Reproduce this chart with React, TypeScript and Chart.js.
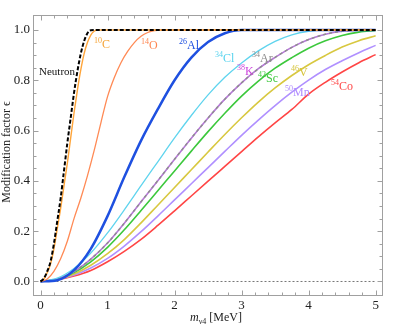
import React, { useEffect, useRef } from "react";
import { Chart, registerables } from "chart.js";

Chart.register(...registerables);

// ---------- data ----------
const X_TICKS = [0, 1, 2, 3, 4, 5];
const Y_TICKS = [0, 0.2, 0.4, 0.6, 0.8, 1.0];

const NEUTRON_X = [0, 0.05, 0.1, 0.15, 0.2, 0.25, 0.3, 0.35, 0.4, 0.45, 0.5, 0.55, 0.6, 0.65, 0.7, 0.75, 0.8, 5];
const NEUTRON_Y = [0, 0.012, 0.04, 0.08, 0.15, 0.24, 0.33, 0.44, 0.55, 0.65, 0.75, 0.835, 0.905, 0.955, 0.987, 0.999, 1, 1];

const C10_X = [0, 0.05, 0.1, 0.15, 0.2, 0.25, 0.3, 0.35, 0.4, 0.45, 0.5, 0.55, 0.6, 0.65, 0.7, 0.75, 0.8, 0.85, 5];
const C10_Y = [0, 0.01, 0.035, 0.07, 0.13, 0.21, 0.29, 0.38, 0.47, 0.57, 0.67, 0.76, 0.84, 0.905, 0.95, 0.98, 0.995, 1, 1];

const O14_X = [0, 0.1, 0.2, 0.3, 0.4, 0.5, 0.6, 0.7, 0.8, 0.9, 1.0, 1.1, 1.2, 1.3, 1.4, 1.5, 1.6, 1.7, 1.8, 5];
const O14_Y = [0, 0.01, 0.04, 0.09, 0.16, 0.25, 0.33, 0.42, 0.52, 0.63, 0.735, 0.81, 0.87, 0.915, 0.95, 0.975, 0.99, 0.998, 1, 1];

const AL26_X = [0, 0.25, 0.5, 0.75, 1.0, 1.25, 1.5, 1.75, 2.0, 2.25, 2.5, 2.75, 3.0, 5];
const AL26_Y = [0, 0.005, 0.045, 0.13, 0.26, 0.415, 0.56, 0.685, 0.8, 0.89, 0.952, 0.987, 1, 1];

const HEAVY_X = [0, 0.25, 0.5, 0.75, 1.0, 1.25, 1.5, 1.75, 2.0, 2.25, 2.5, 2.75, 3.0, 3.25, 3.5, 3.75, 4.0, 4.25, 4.5, 4.75, 5.0];
const CL34_Y = [0, 0.0135, 0.052, 0.113, 0.193, 0.285, 0.381, 0.476, 0.571, 0.66, 0.742, 0.812, 0.869, 0.917, 0.955, 0.981, 0.995, 1, 1, 1, 1];
const AR34_Y = [0, 0.0099, 0.0396, 0.089, 0.153, 0.232, 0.317, 0.401, 0.486, 0.57, 0.65, 0.725, 0.79, 0.846, 0.891, 0.931, 0.962, 0.983, 0.995, 0.9995, 1];
const K38_Y = [0, 0.0099, 0.0396, 0.089, 0.153, 0.232, 0.317, 0.401, 0.486, 0.57, 0.65, 0.725, 0.79, 0.846, 0.891, 0.931, 0.962, 0.983, 0.995, 0.9995, 1];
const SC42_Y = [0, 0.0093, 0.0356, 0.0783, 0.1357, 0.2054, 0.2822, 0.361, 0.4396, 0.5184, 0.5958, 0.669, 0.7372, 0.7971, 0.848, 0.89, 0.9276, 0.957, 0.9783, 0.9916, 0.998];
const V46_Y = [0, 0.0083, 0.0297, 0.0644, 0.1106, 0.1667, 0.233, 0.3033, 0.3739, 0.4443, 0.5148, 0.5846, 0.651, 0.7135, 0.7695, 0.819, 0.862, 0.8988, 0.932, 0.9576, 0.9767];
const MN50_Y = [0, 0.0076, 0.0254, 0.0535, 0.0917, 0.1408, 0.198, 0.2602, 0.3244, 0.3887, 0.4529, 0.5172, 0.5812, 0.6417, 0.6993, 0.7525, 0.8006, 0.8427, 0.8777, 0.9099, 0.9388];
const CO54_Y = [0, 0.0069, 0.0216, 0.0439, 0.0785, 0.12, 0.1675, 0.2228, 0.2809, 0.3399, 0.3988, 0.4576, 0.5164, 0.5752, 0.6308, 0.6841, 0.745, 0.792, 0.833, 0.87, 0.902];

const ZERO_X = [0, 5];
const ZERO_Y = [0, 0];

// curve labels: [superscript, name, color, left px, baseline px, font size]
const LABELS: [string, string, string, number, number, number][] = [
  ["", "Neutron", "#111111", 39, 75, 11],
  ["10", "C", "#F5A233", 94, 48, 12],
  ["14", "O", "#FF8650", 141, 49, 12],
  ["26", "Al", "#1E50E0", 179, 49, 12],
  ["34", "Cl", "#55D2EE", 215, 62, 12],
  ["34", "Ar", "#8C8C8C", 252, 62, 12],
  ["38", "K", "#CC44DD", 237, 75, 12],
  ["42", "Sc", "#3EC83E", 258, 82, 12],
  ["46", "V", "#D6C43A", 291, 76, 12],
  ["50", "Mn", "#B08CFF", 285, 96, 12],
  ["54", "Co", "#FF4545", 331, 90, 12],
];

const SERIF = "'Liberation Serif', 'DejaVu Serif', serif";

const pts = (xs: number[], ys: number[]) => xs.map((x, i) => ({ x, y: ys[i] }));

const framePlugin = {
  id: "mframe",
  afterDraw(chart: any) {
    const { ctx, chartArea: a, scales } = chart;
    const xs = scales.x;
    const ys = scales.y;
    ctx.save();
    ctx.strokeStyle = "#a0a0a0";
    ctx.lineWidth = 1;
    const L = Math.round(a.left) + 0.5;
    const R = Math.round(a.right) - 0.5;
    const T = Math.round(a.top) + 0.5;
    const B = Math.round(a.bottom) - 0.5;
    ctx.strokeRect(L, T, R - L, B - T);
    ctx.beginPath();
    for (let i = 0; i <= 25; i++) {
      const v = i * 0.2;
      const major = i % 5 === 0;
      const len = major ? 5 : 3;
      const px = Math.round(xs.getPixelForValue(v)) + 0.5;
      ctx.moveTo(px, B);
      ctx.lineTo(px, B - len);
      ctx.moveTo(px, T);
      ctx.lineTo(px, T + len);
    }
    for (let i = 0; i <= 20; i++) {
      const v = i * 0.05;
      const major = i % 4 === 0;
      const len = major ? 5 : 3;
      const py = Math.round(ys.getPixelForValue(v)) + 0.5;
      ctx.moveTo(L, py);
      ctx.lineTo(L + len, py);
      ctx.moveTo(R, py);
      ctx.lineTo(R - len, py);
    }
    ctx.stroke();

    ctx.fillStyle = "#222";
    ctx.textBaseline = "alphabetic";
    ctx.textAlign = "left";
    let x0 = 190;
    const yb = 321;
    ctx.font = `italic 12px ${SERIF}`;
    ctx.fillText("m", x0, yb);
    x0 += ctx.measureText("m").width;
    ctx.font = `8px ${SERIF}`;
    ctx.fillText("ν4", x0, yb + 3);
    x0 += ctx.measureText("ν4").width;
    ctx.font = `12px ${SERIF}`;
    ctx.fillText(" [MeV]", x0, yb);
    ctx.save();
    ctx.translate(10, 152);
    ctx.rotate(-Math.PI / 2);
    ctx.textAlign = "center";
    ctx.font = `12px ${SERIF}`;
    ctx.fillText("Modification factor ϵ", 0, 0);
    ctx.restore();

    for (const [sup, name, color, lx, by, fs] of LABELS) {
      ctx.fillStyle = color;
      let cx = lx;
      if (sup) {
        ctx.font = `8px ${SERIF}`;
        ctx.fillText(sup, cx, by - 5);
        cx += ctx.measureText(sup).width;
      }
      ctx.font = `${fs}px ${SERIF}`;
      ctx.fillText(name, cx, by);
    }
    ctx.restore();
  },
};

export default function App() {
  const ref = useRef<HTMLCanvasElement | null>(null);
  useEffect(() => {
    if (!ref.current) return;
    const line = (data: any, color: string, width: number, dash?: number[]) => ({
      data,
      borderColor: color,
      backgroundColor: color,
      borderWidth: width,
      borderDash: dash || [],
      pointRadius: 0,
      fill: false,
      cubicInterpolationMode: "monotone" as const,
    });
    const chart = new Chart(ref.current, {
      type: "line",
      data: {
        datasets: [
          line(pts(NEUTRON_X, NEUTRON_Y), "#000000", 2, [4, 2]),
          line(pts(C10_X, C10_Y), "#FFA53A", 1.4),
          line(pts(O14_X, O14_Y), "#FF8A55", 1.3),
          line(pts(AL26_X, AL26_Y), "#1E50E0", 2.5),
          line(pts(HEAVY_X, CL34_Y), "#5FD4EE", 1.3),
          line(pts(HEAVY_X, AR34_Y), "#8E8E8E", 1.5, [3, 3]),
          line(pts(HEAVY_X, K38_Y), "#B678D8", 1.6),
          line(pts(HEAVY_X, SC42_Y), "#3CC83C", 1.6),
          line(pts(HEAVY_X, V46_Y), "#D8C840", 1.6),
          line(pts(HEAVY_X, MN50_Y), "#B090FF", 1.6),
          line(pts(HEAVY_X, CO54_Y), "#FF4545", 1.6),
          line(pts(ZERO_X, ZERO_Y), "#777777", 1, [2, 2]),
        ],
      },
      options: {
        animation: false,
        responsive: false,
        devicePixelRatio: 1,
        layout: { padding: { top: 15, right: 16, left: 0, bottom: 0 } },
        plugins: { legend: { display: false }, tooltip: { enabled: false } },
        elements: { point: { radius: 0 } },
        scales: {
          x: {
            type: "linear",
            min: -0.112,
            max: 5.11,
            afterFit: (s: any) => {
              s.height = 31;
            },
            afterBuildTicks: (s: any) => {
              s.ticks = X_TICKS.map((v) => ({ value: v }));
            },
            grid: { display: false, drawTicks: false },
            border: { display: false },
            ticks: {
              autoSkip: false,
              maxRotation: 0,
              padding: 2,
              color: "#222",
              font: { family: SERIF, size: 13 },
              callback: (v: any) => String(v),
            },
          },
          y: {
            type: "linear",
            min: -0.0577,
            max: 1.0596,
            afterFit: (s: any) => {
              s.width = 33;
            },
            afterBuildTicks: (s: any) => {
              s.ticks = Y_TICKS.map((v) => ({ value: v }));
            },
            grid: { display: false, drawTicks: false },
            border: { display: false },
            ticks: {
              autoSkip: false,
              padding: 3,
              color: "#222",
              font: { family: SERIF, size: 13 },
              callback: (v: any) => Number(v).toFixed(1),
            },
          },
        },
      },
      plugins: [framePlugin],
    });
    return () => chart.destroy();
  }, []);
  return (
    <div style={{ position: "fixed", left: 0, top: 0, width: 399, height: 327, background: "#fff" }}>
      <canvas ref={ref} width={399} height={327} style={{ width: 399, height: 327, display: "block" }} />
    </div>
  );
}
